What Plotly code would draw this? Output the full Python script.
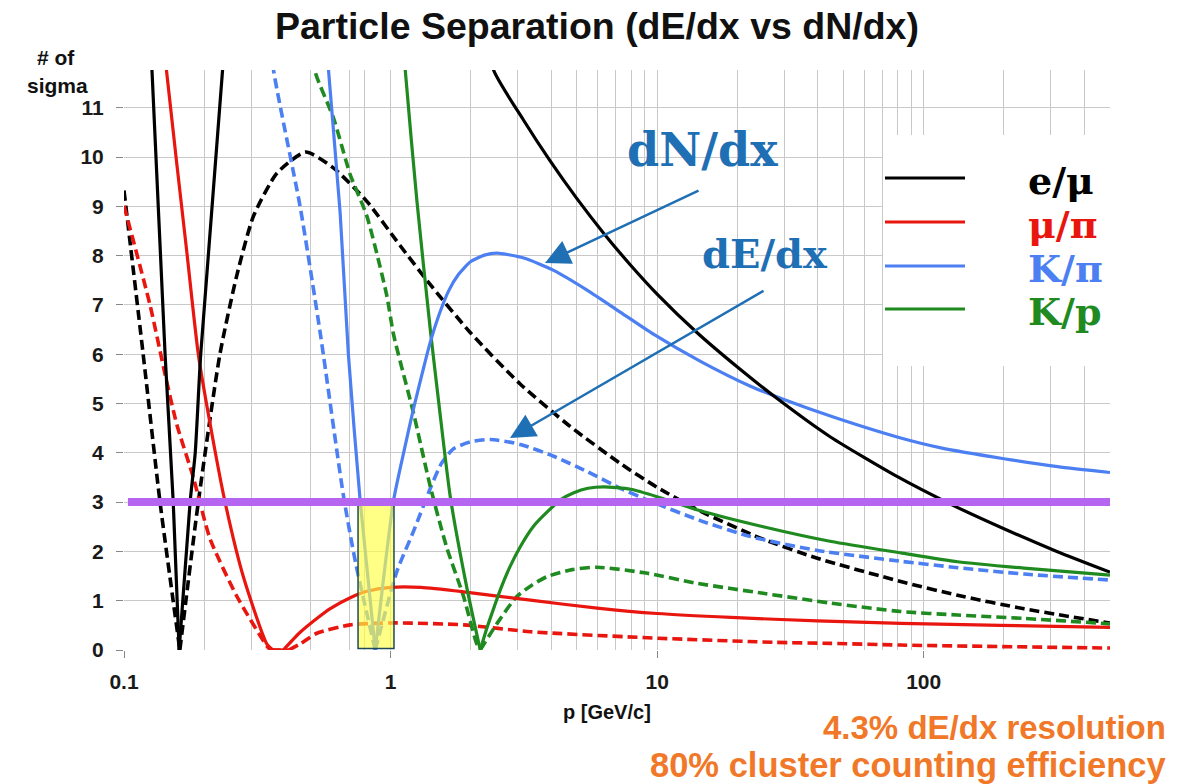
import plotly.graph_objects as go
import math

# ---------------- data ----------------
# e/mu
E_MU_DNDX_X = [0.1255, 0.1426, 0.153, 0.161, 0.177, 0.185, 0.194, 0.240, None,
               2.35, 2.437, 3.16, 3.98, 5.01, 6.31, 7.94, 10.0, 14.1, 20.0, 28.2, 44.7,
               79.4, 126, 200, 316, 500]
E_MU_DNDX_Y = [12.5, 6.0, 3.0, 0.0, 3.0, 4.0, 6.0, 12.5, None,
               12.4, 11.76, 10.74, 9.91, 9.15, 8.45, 7.81, 7.22, 6.44, 5.74, 5.1, 4.32,
               3.52, 2.96, 2.46, 2.0, 1.58]
E_MU_DEDX_X = [0.1, 0.118, 0.1365, 0.162, 0.19, 0.229, 0.265, 0.306, 0.3745, 0.48, 0.61,
               0.815, 1.087, 1.41, 1.99, 3.07, 4.73, 7.29, 10, 14.6, 24.4, 39.9, 82, 134, 238, 500]
E_MU_DEDX_Y = [9.32, 6.0, 3.0, 0.0, 3.0, 6.0, 7.6, 8.8, 9.67, 10.1, 9.78,
               9.1, 8.2, 7.41, 6.44, 5.39, 4.53, 3.78, 3.3, 2.81, 2.27, 1.86, 1.39, 1.11, 0.835, 0.545]
# mu/pi
MU_PI_DNDX_X = [0.142, 0.1445, 0.172, 0.19, 0.2105, 0.2394, 0.2806, 0.3436, 0.362, 0.396,
                0.458, 0.529, 0.594, 0.706, 0.815, 1.0, 1.3, 1.88, 3.35, 5.96, 10, 18.9, 39.9,
                82, 194, 500]
MU_PI_DNDX_Y = [12.3, 11.73, 8.08, 6.0, 4.58, 3.0, 1.48, 0.12, 0.0, 0.0,
                0.36, 0.64, 0.84, 1.06, 1.19, 1.27, 1.27, 1.18, 1.01, 0.85, 0.74, 0.66, 0.59,
                0.54, 0.5, 0.46]
MU_PI_DEDX_X = [0.1, 0.1253, 0.1426, 0.1577, 0.182, 0.2105, 0.265, 0.3436, 0.355, 0.415,
                0.46, 0.529, 0.706, 0.86, 1.06, 1.88, 3.35, 10, 27.8, 44.8, 82, 500]
MU_PI_DEDX_Y = [9.01, 6.99, 5.59, 4.58, 3.5, 2.25, 1.09, 0.08, 0.0, 0.0,
                0.13, 0.34, 0.51, 0.54, 0.55, 0.51, 0.37, 0.24, 0.155, 0.135, 0.1, 0.04]
# K/pi
K_PI_DNDX_X = [0.575, 0.585, 0.647, 0.695, 0.769, 0.876, 1.026, 1.13, 1.22, 1.32, 1.41, 1.52,
               1.65, 1.8, 2.0, 2.25, 2.51, 3.16, 4.09, 5.46, 7.29, 9.72, 14.6, 22.4, 29.9,
               46.1, 82, 116, 200, 318, 500]
K_PI_DNDX_Y = [12.5, 11.77, 8.86, 5.98, 3.03, 0.0, 3.03, 4.1, 4.9, 5.65, 6.25, 6.8,
               7.28, 7.62, 7.88, 8.01, 8.05, 7.95, 7.7, 7.3, 6.85, 6.4, 5.85, 5.35, 5.08,
               4.72, 4.3, 4.1, 3.88, 3.72, 3.6]
K_PI_DEDX_X = [0.355, 0.364, 0.458, 0.544, 0.6665, 0.74, 0.876, 1.057, 1.22, 1.41, 1.55, 1.72,
               1.99, 2.37, 3.07, 4.09, 5.46, 7.29, 9.4, 14.6, 22.4, 39.9, 82, 134, 238, 500]
K_PI_DEDX_Y = [12.5, 11.76, 8.99, 6.45, 3.11, 1.76, 0.0, 1.6, 2.41, 3.28, 3.78, 4.08,
               4.22, 4.27, 4.17, 3.93, 3.62, 3.28, 3.02, 2.62, 2.3, 2.02, 1.8, 1.67, 1.54, 1.42]
# K/p
K_P_DNDX_X = [1.12, 1.135, 1.256, 1.41, 1.52, 1.675, 1.94, 2.17, 2.30, 2.45, 2.58, 2.8, 3.07,
              3.45, 3.87, 4.35, 4.87, 5.5, 6.31, 7.95, 10, 14.2, 25, 45, 82, 134, 238, 500]
K_P_DNDX_Y = [12.3, 11.77, 9.1, 6.49, 4.97, 3.11, 1.22, 0.0, 0.45, 0.88, 1.22, 1.68, 2.1,
              2.52, 2.8, 3.05, 3.19, 3.28, 3.31, 3.26, 3.11, 2.84, 2.5, 2.2, 1.97, 1.79, 1.66, 1.52]
K_P_DEDX_X = [0.515, 0.5215, 0.61, 0.706, 0.815, 0.967, 1.026, 1.22, 1.41, 1.62, 1.88, 2.1, 2.17,
              2.51, 2.97, 3.4, 3.87, 4.8, 5.96, 9.1, 14.2, 25, 45, 82, 134, 238, 500]
K_P_DEDX_Y = [12.3, 11.73, 10.8, 9.64, 8.8, 7.2, 6.4, 4.8, 3.31, 2.1, 1.08, 0.14, 0.0,
              0.54, 1.08, 1.32, 1.49, 1.63, 1.68, 1.56, 1.35, 1.15, 0.95, 0.78, 0.71, 0.64, 0.53]

SERIES_NAMES = ["e/μ", "μ/π", "K/π", "K/p"]
THRESHOLD_SIGMA = 3
BAND_P = [0.755, 1.03]          # highlighted momentum window
BAND_SIGMA = [0.03, 3.0]

X_TICKS = [0.1, 1, 10, 100]
X_TICK_TEXT = ["0.1", "1", "10", "100"]
X_MINOR = [0.2, 0.3, 0.5, 0.7, 0.8,
           2, 3, 4, 5, 6, 7, 8, 9,
           20, 30, 40, 50, 60, 70, 80, 90,
           200, 300, 400, 500]
Y_TICKS = list(range(0, 12))

# ---------------- styling ----------------
C_BLACK = "#000000"
C_RED = "#e8160f"
C_BLUE = "#4c7ff2"
C_GREEN = "#1f8a1f"
C_PURPLE = "#b565ef"
C_ARROW = "#1f6fb5"
C_ORANGE = "#f07828"
GRID = "#c9c9c9"
SANS = "Liberation Sans, Arial, sans-serif"
SERIF = "DejaVu Serif, serif"

W, H = 1193, 784
PL, PR, PT, PB = 124, 1110, 70, 650


def fx(px):
    return (px - PL) / (PR - PL)


def fy(py):
    return (PB - py) / (PB - PT)


def segments(xs, ys):
    """split a series at None gaps and at every zero (sharp V tips)."""
    segs, cx, cy = [], [], []
    for x, y in zip(xs, ys):
        if x is None:
            if len(cx) > 1:
                segs.append((cx, cy))
            cx, cy = [], []
            continue
        cx.append(x)
        cy.append(y)
        if y == 0 and len(cx) > 1:
            segs.append((cx, cy))
            cx, cy = [x], [y]
    if len(cx) > 1:
        segs.append((cx, cy))
    return segs


fig = go.Figure()

curves = [
    (E_MU_DEDX_X, E_MU_DEDX_Y, C_BLACK, True),
    (MU_PI_DEDX_X, MU_PI_DEDX_Y, C_RED, True),
    (K_PI_DEDX_X, K_PI_DEDX_Y, C_BLUE, True),
    (K_P_DEDX_X, K_P_DEDX_Y, C_GREEN, True),
    (MU_PI_DNDX_X, MU_PI_DNDX_Y, C_RED, False),
    (K_P_DNDX_X, K_P_DNDX_Y, C_GREEN, False),
    (K_PI_DNDX_X, K_PI_DNDX_Y, C_BLUE, False),
    (E_MU_DNDX_X, E_MU_DNDX_Y, C_BLACK, False),
]
for xs, ys, col, dashed in curves:
    for sx, sy in segments(xs, ys):
        fig.add_trace(go.Scatter(
            x=sx, y=sy, mode="lines", showlegend=False, hoverinfo="skip",
            line=dict(color=col, width=3.6 if dashed else 3.2,
                      dash="10px,5px" if dashed else "solid",
                      shape="spline", smoothing=0.6)))

shapes = []
# highlighted window: translucent yellow fill + dark outline
shapes.append(dict(type="rect", xref="x", yref="y", layer="above",
                   x0=BAND_P[0], x1=BAND_P[1], y0=BAND_SIGMA[0], y1=BAND_SIGMA[1],
                   fillcolor="#ffff48", opacity=0.66, line=dict(width=0)))
shapes.append(dict(type="rect", xref="x", yref="y", layer="above",
                   x0=BAND_P[0], x1=BAND_P[1], y0=BAND_SIGMA[0], y1=BAND_SIGMA[1],
                   fillcolor="rgba(0,0,0,0)", line=dict(color="#1e4a58", width=1.5)))
# 3 sigma line
shapes.append(dict(type="line", xref="paper", yref="y", layer="above",
                   x0=0.004, x1=1, y0=THRESHOLD_SIGMA, y1=THRESHOLD_SIGMA,
                   line=dict(color=C_PURPLE, width=8)))
# legend panel
shapes.append(dict(type="rect", xref="paper", yref="paper", layer="above",
                   x0=fx(883), x1=fx(1125), y0=fy(366), y1=fy(135),
                   fillcolor="white", line=dict(width=0)))
legend_cols = [C_BLACK, C_RED, C_BLUE, C_GREEN]
legend_py = [178, 222, 266, 309]
for col, py in zip(legend_cols, legend_py):
    shapes.append(dict(type="line", xref="paper", yref="paper", layer="above",
                       x0=fx(885), x1=fx(965), y0=fy(py), y1=fy(py),
                       line=dict(color=col, width=3)))

annotations = []
for name, col, py in zip(SERIES_NAMES, legend_cols, legend_py):
    annotations.append(dict(xref="paper", yref="paper", x=fx(1026), y=fy(py + 2),
                            xanchor="left", yanchor="middle", showarrow=False,
                            text="<b>%s</b>" % name,
                            font=dict(family=SERIF, size=38, color=col)))

# title and axis titles
annotations.append(dict(xref="paper", yref="paper", x=fx(597), y=fy(26),
                        xanchor="center", yanchor="middle", showarrow=False,
                        text="<b>Particle Separation (dE/dx vs dN/dx)</b>",
                        font=dict(family=SANS, size=37.5, color="#111111")))
annotations.append(dict(xref="paper", yref="paper", x=fx(56), y=fy(57),
                        xanchor="center", yanchor="middle", showarrow=False,
                        text="<b># of</b>", font=dict(family=SANS, size=21, color="#111111")))
annotations.append(dict(xref="paper", yref="paper", x=fx(57), y=fy(85),
                        xanchor="center", yanchor="middle", showarrow=False,
                        text="<b>sigma</b>", font=dict(family=SANS, size=21, color="#111111")))
annotations.append(dict(xref="paper", yref="paper", x=fx(607), y=fy(712),
                        xanchor="center", yanchor="middle", showarrow=False,
                        text="<b>p [GeV/c]</b>", font=dict(family=SANS, size=20, color="#111111")))
# footnotes
annotations.append(dict(xref="paper", yref="paper", x=fx(1168), y=fy(727),
                        xanchor="right", yanchor="middle", showarrow=False,
                        text="<b>4.3% dE/dx resolution</b>",
                        font=dict(family=SANS, size=33, color=C_ORANGE)))
annotations.append(dict(xref="paper", yref="paper", x=fx(1168), y=fy(765),
                        xanchor="right", yanchor="middle", showarrow=False,
                        text="<b>80% cluster counting efficiency</b>",
                        font=dict(family=SANS, size=34.5, color=C_ORANGE)))
# dN/dx, dE/dx labels with arrows
annotations.append(dict(xref="paper", yref="paper", x=fx(702), y=fy(150),
                        xanchor="center", yanchor="middle", showarrow=False,
                        text="<b>dN/dx</b>", font=dict(family=SERIF, size=46, color=C_ARROW)))
annotations.append(dict(xref="paper", yref="paper", x=fx(765), y=fy(254),
                        xanchor="center", yanchor="middle", showarrow=False,
                        text="<b>dE/dx</b>", font=dict(family=SERIF, size=40, color=C_ARROW)))
annotations.append(dict(xref="paper", yref="paper", x=fx(545), y=fy(263), text="",
                        showarrow=True, ax=155, ay=-73, arrowhead=2, arrowsize=2,
                        arrowwidth=2.5, arrowcolor=C_ARROW, standoff=0))
annotations.append(dict(xref="paper", yref="paper", x=fx(510), y=fy(438), text="",
                        showarrow=True, ax=255, ay=-148, arrowhead=2, arrowsize=2,
                        arrowwidth=2.5, arrowcolor=C_ARROW, standoff=0))

fig.update_layout(
    width=W, height=H, autosize=False,
    margin=dict(l=PL, r=W - PR, t=PT, b=H - PB, pad=0),
    paper_bgcolor="white", plot_bgcolor="white",
    showlegend=False,
    shapes=shapes, annotations=annotations,
    xaxis=dict(type="log", range=[-1, math.log10(500)],
               tickmode="array", tickvals=X_TICKS, ticktext=X_TICK_TEXT,
               showgrid=True, gridcolor=GRID, gridwidth=1, zeroline=False,
               showline=False, ticks="outside", ticklen=7, tickcolor="#888888",
               ticklabelstandoff=6,
               tickfont=dict(family=SANS, size=21, color="#1a1a1a", weight="bold"),
               minor=dict(tickmode="array", tickvals=X_MINOR, showgrid=True,
                          gridcolor=GRID, gridwidth=1, ticks="")),
    yaxis=dict(range=[0, (PB - PT) / 49.3], tickmode="array", tickvals=Y_TICKS,
               showgrid=True, gridcolor=GRID, gridwidth=1, zeroline=False,
               showline=False, ticks="outside", ticklen=7, tickcolor="#888888",
               ticklabelstandoff=8,
               tickfont=dict(family=SANS, size=21, color="#1a1a1a", weight="bold")),
)

fig.write_html("out.html")
